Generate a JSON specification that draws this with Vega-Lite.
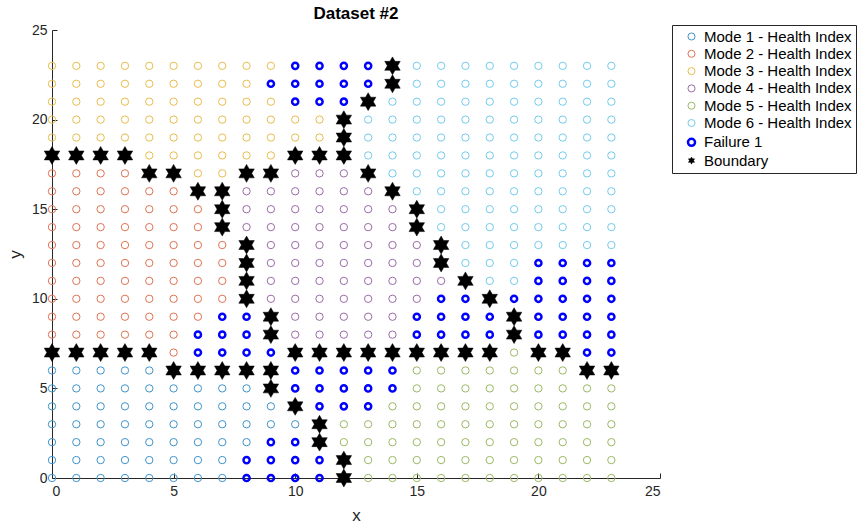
{
  "$schema": "https://vega.github.io/schema/vega-lite/v6.json",
  "width": 608,
  "height": 448,
  "autosize": "none",
  "padding": {"left": 52, "top": 30, "right": 207, "bottom": 50},
  "background": "white",
  "title": {"text": "Dataset #2", "fontSize": 17, "fontWeight": "bold", "font": "Liberation Sans", "color": "#000000", "offset": 0, "anchor": "middle"},
  "data": {"values": [
    {"x":0,"y":23,"k":"3"},{"x":1,"y":23,"k":"3"},{"x":2,"y":23,"k":"3"},{"x":3,"y":23,"k":"3"},{"x":4,"y":23,"k":"3"},{"x":5,"y":23,"k":"3"},{"x":6,"y":23,"k":"3"},{"x":7,"y":23,"k":"3"},{"x":8,"y":23,"k":"3"},{"x":9,"y":23,"k":"3"},{"x":10,"y":23,"k":"F"},{"x":11,"y":23,"k":"F"},{"x":12,"y":23,"k":"F"},{"x":13,"y":23,"k":"F"},{"x":15,"y":23,"k":"6"},{"x":16,"y":23,"k":"6"},{"x":17,"y":23,"k":"6"},{"x":18,"y":23,"k":"6"},{"x":19,"y":23,"k":"6"},{"x":20,"y":23,"k":"6"},{"x":21,"y":23,"k":"6"},{"x":22,"y":23,"k":"6"},{"x":23,"y":23,"k":"6"},
    {"x":0,"y":22,"k":"3"},{"x":1,"y":22,"k":"3"},{"x":2,"y":22,"k":"3"},{"x":3,"y":22,"k":"3"},{"x":4,"y":22,"k":"3"},{"x":5,"y":22,"k":"3"},{"x":6,"y":22,"k":"3"},{"x":7,"y":22,"k":"3"},{"x":8,"y":22,"k":"3"},{"x":9,"y":22,"k":"F"},{"x":10,"y":22,"k":"F"},{"x":11,"y":22,"k":"F"},{"x":12,"y":22,"k":"F"},{"x":13,"y":22,"k":"F"},{"x":15,"y":22,"k":"6"},{"x":16,"y":22,"k":"6"},{"x":17,"y":22,"k":"6"},{"x":18,"y":22,"k":"6"},{"x":19,"y":22,"k":"6"},{"x":20,"y":22,"k":"6"},{"x":21,"y":22,"k":"6"},{"x":22,"y":22,"k":"6"},{"x":23,"y":22,"k":"6"},
    {"x":0,"y":21,"k":"3"},{"x":1,"y":21,"k":"3"},{"x":2,"y":21,"k":"3"},{"x":3,"y":21,"k":"3"},{"x":4,"y":21,"k":"3"},{"x":5,"y":21,"k":"3"},{"x":6,"y":21,"k":"3"},{"x":7,"y":21,"k":"3"},{"x":8,"y":21,"k":"3"},{"x":9,"y":21,"k":"3"},{"x":10,"y":21,"k":"F"},{"x":11,"y":21,"k":"F"},{"x":12,"y":21,"k":"F"},{"x":14,"y":21,"k":"6"},{"x":15,"y":21,"k":"6"},{"x":16,"y":21,"k":"6"},{"x":17,"y":21,"k":"6"},{"x":18,"y":21,"k":"6"},{"x":19,"y":21,"k":"6"},{"x":20,"y":21,"k":"6"},{"x":21,"y":21,"k":"6"},{"x":22,"y":21,"k":"6"},{"x":23,"y":21,"k":"6"},
    {"x":0,"y":20,"k":"3"},{"x":1,"y":20,"k":"3"},{"x":2,"y":20,"k":"3"},{"x":3,"y":20,"k":"3"},{"x":4,"y":20,"k":"3"},{"x":5,"y":20,"k":"3"},{"x":6,"y":20,"k":"3"},{"x":7,"y":20,"k":"3"},{"x":8,"y":20,"k":"3"},{"x":9,"y":20,"k":"3"},{"x":10,"y":20,"k":"3"},{"x":11,"y":20,"k":"3"},{"x":13,"y":20,"k":"6"},{"x":14,"y":20,"k":"6"},{"x":15,"y":20,"k":"6"},{"x":16,"y":20,"k":"6"},{"x":17,"y":20,"k":"6"},{"x":18,"y":20,"k":"6"},{"x":19,"y":20,"k":"6"},{"x":20,"y":20,"k":"6"},{"x":21,"y":20,"k":"6"},{"x":22,"y":20,"k":"6"},{"x":23,"y":20,"k":"6"},
    {"x":0,"y":19,"k":"3"},{"x":1,"y":19,"k":"3"},{"x":2,"y":19,"k":"3"},{"x":3,"y":19,"k":"3"},{"x":4,"y":19,"k":"3"},{"x":5,"y":19,"k":"3"},{"x":6,"y":19,"k":"3"},{"x":7,"y":19,"k":"3"},{"x":8,"y":19,"k":"3"},{"x":9,"y":19,"k":"3"},{"x":10,"y":19,"k":"3"},{"x":11,"y":19,"k":"3"},{"x":13,"y":19,"k":"6"},{"x":14,"y":19,"k":"6"},{"x":15,"y":19,"k":"6"},{"x":16,"y":19,"k":"6"},{"x":17,"y":19,"k":"6"},{"x":18,"y":19,"k":"6"},{"x":19,"y":19,"k":"6"},{"x":20,"y":19,"k":"6"},{"x":21,"y":19,"k":"6"},{"x":22,"y":19,"k":"6"},{"x":23,"y":19,"k":"6"},
    {"x":4,"y":18,"k":"3"},{"x":5,"y":18,"k":"3"},{"x":6,"y":18,"k":"3"},{"x":7,"y":18,"k":"3"},{"x":8,"y":18,"k":"3"},{"x":9,"y":18,"k":"3"},{"x":13,"y":18,"k":"6"},{"x":14,"y":18,"k":"6"},{"x":15,"y":18,"k":"6"},{"x":16,"y":18,"k":"6"},{"x":17,"y":18,"k":"6"},{"x":18,"y":18,"k":"6"},{"x":19,"y":18,"k":"6"},{"x":20,"y":18,"k":"6"},{"x":21,"y":18,"k":"6"},{"x":22,"y":18,"k":"6"},{"x":23,"y":18,"k":"6"},
    {"x":0,"y":17,"k":"2"},{"x":1,"y":17,"k":"2"},{"x":2,"y":17,"k":"2"},{"x":3,"y":17,"k":"2"},{"x":6,"y":17,"k":"3"},{"x":7,"y":17,"k":"3"},{"x":10,"y":17,"k":"4"},{"x":11,"y":17,"k":"4"},{"x":12,"y":17,"k":"4"},{"x":14,"y":17,"k":"6"},{"x":15,"y":17,"k":"6"},{"x":16,"y":17,"k":"6"},{"x":17,"y":17,"k":"6"},{"x":18,"y":17,"k":"6"},{"x":19,"y":17,"k":"6"},{"x":20,"y":17,"k":"6"},{"x":21,"y":17,"k":"6"},{"x":22,"y":17,"k":"6"},{"x":23,"y":17,"k":"6"},
    {"x":0,"y":16,"k":"2"},{"x":1,"y":16,"k":"2"},{"x":2,"y":16,"k":"2"},{"x":3,"y":16,"k":"2"},{"x":4,"y":16,"k":"2"},{"x":5,"y":16,"k":"2"},{"x":8,"y":16,"k":"4"},{"x":9,"y":16,"k":"4"},{"x":10,"y":16,"k":"4"},{"x":11,"y":16,"k":"4"},{"x":12,"y":16,"k":"4"},{"x":13,"y":16,"k":"4"},{"x":15,"y":16,"k":"6"},{"x":16,"y":16,"k":"6"},{"x":17,"y":16,"k":"6"},{"x":18,"y":16,"k":"6"},{"x":19,"y":16,"k":"6"},{"x":20,"y":16,"k":"6"},{"x":21,"y":16,"k":"6"},{"x":22,"y":16,"k":"6"},{"x":23,"y":16,"k":"6"},
    {"x":0,"y":15,"k":"2"},{"x":1,"y":15,"k":"2"},{"x":2,"y":15,"k":"2"},{"x":3,"y":15,"k":"2"},{"x":4,"y":15,"k":"2"},{"x":5,"y":15,"k":"2"},{"x":6,"y":15,"k":"2"},{"x":8,"y":15,"k":"4"},{"x":9,"y":15,"k":"4"},{"x":10,"y":15,"k":"4"},{"x":11,"y":15,"k":"4"},{"x":12,"y":15,"k":"4"},{"x":13,"y":15,"k":"4"},{"x":14,"y":15,"k":"4"},{"x":16,"y":15,"k":"6"},{"x":17,"y":15,"k":"6"},{"x":18,"y":15,"k":"6"},{"x":19,"y":15,"k":"6"},{"x":20,"y":15,"k":"6"},{"x":21,"y":15,"k":"6"},{"x":22,"y":15,"k":"6"},{"x":23,"y":15,"k":"6"},
    {"x":0,"y":14,"k":"2"},{"x":1,"y":14,"k":"2"},{"x":2,"y":14,"k":"2"},{"x":3,"y":14,"k":"2"},{"x":4,"y":14,"k":"2"},{"x":5,"y":14,"k":"2"},{"x":6,"y":14,"k":"2"},{"x":8,"y":14,"k":"4"},{"x":9,"y":14,"k":"4"},{"x":10,"y":14,"k":"4"},{"x":11,"y":14,"k":"4"},{"x":12,"y":14,"k":"4"},{"x":13,"y":14,"k":"4"},{"x":14,"y":14,"k":"4"},{"x":16,"y":14,"k":"6"},{"x":17,"y":14,"k":"6"},{"x":18,"y":14,"k":"6"},{"x":19,"y":14,"k":"6"},{"x":20,"y":14,"k":"6"},{"x":21,"y":14,"k":"6"},{"x":22,"y":14,"k":"6"},{"x":23,"y":14,"k":"6"},
    {"x":0,"y":13,"k":"2"},{"x":1,"y":13,"k":"2"},{"x":2,"y":13,"k":"2"},{"x":3,"y":13,"k":"2"},{"x":4,"y":13,"k":"2"},{"x":5,"y":13,"k":"2"},{"x":6,"y":13,"k":"2"},{"x":7,"y":13,"k":"2"},{"x":9,"y":13,"k":"4"},{"x":10,"y":13,"k":"4"},{"x":11,"y":13,"k":"4"},{"x":12,"y":13,"k":"4"},{"x":13,"y":13,"k":"4"},{"x":14,"y":13,"k":"4"},{"x":15,"y":13,"k":"4"},{"x":17,"y":13,"k":"6"},{"x":18,"y":13,"k":"6"},{"x":19,"y":13,"k":"6"},{"x":20,"y":13,"k":"6"},{"x":21,"y":13,"k":"6"},{"x":22,"y":13,"k":"6"},{"x":23,"y":13,"k":"6"},
    {"x":0,"y":12,"k":"2"},{"x":1,"y":12,"k":"2"},{"x":2,"y":12,"k":"2"},{"x":3,"y":12,"k":"2"},{"x":4,"y":12,"k":"2"},{"x":5,"y":12,"k":"2"},{"x":6,"y":12,"k":"2"},{"x":7,"y":12,"k":"2"},{"x":9,"y":12,"k":"4"},{"x":10,"y":12,"k":"4"},{"x":11,"y":12,"k":"4"},{"x":12,"y":12,"k":"4"},{"x":13,"y":12,"k":"4"},{"x":14,"y":12,"k":"4"},{"x":15,"y":12,"k":"4"},{"x":17,"y":12,"k":"6"},{"x":18,"y":12,"k":"6"},{"x":19,"y":12,"k":"6"},{"x":20,"y":12,"k":"F"},{"x":21,"y":12,"k":"F"},{"x":22,"y":12,"k":"F"},{"x":23,"y":12,"k":"F"},
    {"x":0,"y":11,"k":"2"},{"x":1,"y":11,"k":"2"},{"x":2,"y":11,"k":"2"},{"x":3,"y":11,"k":"2"},{"x":4,"y":11,"k":"2"},{"x":5,"y":11,"k":"2"},{"x":6,"y":11,"k":"2"},{"x":7,"y":11,"k":"2"},{"x":9,"y":11,"k":"4"},{"x":10,"y":11,"k":"4"},{"x":11,"y":11,"k":"4"},{"x":12,"y":11,"k":"4"},{"x":13,"y":11,"k":"4"},{"x":14,"y":11,"k":"4"},{"x":15,"y":11,"k":"4"},{"x":16,"y":11,"k":"4"},{"x":18,"y":11,"k":"6"},{"x":19,"y":11,"k":"6"},{"x":20,"y":11,"k":"F"},{"x":21,"y":11,"k":"F"},{"x":22,"y":11,"k":"F"},{"x":23,"y":11,"k":"F"},
    {"x":0,"y":10,"k":"2"},{"x":1,"y":10,"k":"2"},{"x":2,"y":10,"k":"2"},{"x":3,"y":10,"k":"2"},{"x":4,"y":10,"k":"2"},{"x":5,"y":10,"k":"2"},{"x":6,"y":10,"k":"2"},{"x":7,"y":10,"k":"2"},{"x":9,"y":10,"k":"4"},{"x":10,"y":10,"k":"4"},{"x":11,"y":10,"k":"4"},{"x":12,"y":10,"k":"4"},{"x":13,"y":10,"k":"4"},{"x":14,"y":10,"k":"4"},{"x":15,"y":10,"k":"4"},{"x":16,"y":10,"k":"F"},{"x":17,"y":10,"k":"F"},{"x":19,"y":10,"k":"F"},{"x":20,"y":10,"k":"F"},{"x":21,"y":10,"k":"F"},{"x":22,"y":10,"k":"F"},{"x":23,"y":10,"k":"F"},
    {"x":0,"y":9,"k":"2"},{"x":1,"y":9,"k":"2"},{"x":2,"y":9,"k":"2"},{"x":3,"y":9,"k":"2"},{"x":4,"y":9,"k":"2"},{"x":5,"y":9,"k":"2"},{"x":6,"y":9,"k":"2"},{"x":7,"y":9,"k":"F"},{"x":8,"y":9,"k":"F"},{"x":10,"y":9,"k":"4"},{"x":11,"y":9,"k":"4"},{"x":12,"y":9,"k":"4"},{"x":13,"y":9,"k":"4"},{"x":14,"y":9,"k":"4"},{"x":15,"y":9,"k":"F"},{"x":16,"y":9,"k":"F"},{"x":17,"y":9,"k":"F"},{"x":18,"y":9,"k":"F"},{"x":20,"y":9,"k":"F"},{"x":21,"y":9,"k":"F"},{"x":22,"y":9,"k":"F"},{"x":23,"y":9,"k":"F"},
    {"x":0,"y":8,"k":"2"},{"x":1,"y":8,"k":"2"},{"x":2,"y":8,"k":"2"},{"x":3,"y":8,"k":"2"},{"x":4,"y":8,"k":"2"},{"x":5,"y":8,"k":"2"},{"x":6,"y":8,"k":"F"},{"x":7,"y":8,"k":"F"},{"x":8,"y":8,"k":"F"},{"x":10,"y":8,"k":"4"},{"x":11,"y":8,"k":"4"},{"x":12,"y":8,"k":"4"},{"x":13,"y":8,"k":"4"},{"x":14,"y":8,"k":"4"},{"x":15,"y":8,"k":"F"},{"x":16,"y":8,"k":"F"},{"x":17,"y":8,"k":"F"},{"x":18,"y":8,"k":"F"},{"x":20,"y":8,"k":"F"},{"x":21,"y":8,"k":"F"},{"x":22,"y":8,"k":"F"},{"x":23,"y":8,"k":"F"},
    {"x":5,"y":7,"k":"2"},{"x":6,"y":7,"k":"F"},{"x":7,"y":7,"k":"F"},{"x":8,"y":7,"k":"F"},{"x":9,"y":7,"k":"F"},{"x":19,"y":7,"k":"5"},{"x":22,"y":7,"k":"F"},{"x":23,"y":7,"k":"F"},
    {"x":0,"y":6,"k":"1"},{"x":1,"y":6,"k":"1"},{"x":2,"y":6,"k":"1"},{"x":3,"y":6,"k":"1"},{"x":4,"y":6,"k":"1"},{"x":10,"y":6,"k":"F"},{"x":11,"y":6,"k":"F"},{"x":12,"y":6,"k":"F"},{"x":13,"y":6,"k":"F"},{"x":14,"y":6,"k":"F"},{"x":15,"y":6,"k":"5"},{"x":16,"y":6,"k":"5"},{"x":17,"y":6,"k":"5"},{"x":18,"y":6,"k":"5"},{"x":19,"y":6,"k":"5"},{"x":20,"y":6,"k":"5"},{"x":21,"y":6,"k":"5"},
    {"x":0,"y":5,"k":"1"},{"x":1,"y":5,"k":"1"},{"x":2,"y":5,"k":"1"},{"x":3,"y":5,"k":"1"},{"x":4,"y":5,"k":"1"},{"x":5,"y":5,"k":"1"},{"x":6,"y":5,"k":"1"},{"x":7,"y":5,"k":"1"},{"x":8,"y":5,"k":"1"},{"x":10,"y":5,"k":"F"},{"x":11,"y":5,"k":"F"},{"x":12,"y":5,"k":"F"},{"x":13,"y":5,"k":"F"},{"x":14,"y":5,"k":"F"},{"x":15,"y":5,"k":"5"},{"x":16,"y":5,"k":"5"},{"x":17,"y":5,"k":"5"},{"x":18,"y":5,"k":"5"},{"x":19,"y":5,"k":"5"},{"x":20,"y":5,"k":"5"},{"x":21,"y":5,"k":"5"},{"x":22,"y":5,"k":"5"},{"x":23,"y":5,"k":"5"},
    {"x":0,"y":4,"k":"1"},{"x":1,"y":4,"k":"1"},{"x":2,"y":4,"k":"1"},{"x":3,"y":4,"k":"1"},{"x":4,"y":4,"k":"1"},{"x":5,"y":4,"k":"1"},{"x":6,"y":4,"k":"1"},{"x":7,"y":4,"k":"1"},{"x":8,"y":4,"k":"1"},{"x":9,"y":4,"k":"1"},{"x":11,"y":4,"k":"F"},{"x":12,"y":4,"k":"F"},{"x":13,"y":4,"k":"F"},{"x":14,"y":4,"k":"5"},{"x":15,"y":4,"k":"5"},{"x":16,"y":4,"k":"5"},{"x":17,"y":4,"k":"5"},{"x":18,"y":4,"k":"5"},{"x":19,"y":4,"k":"5"},{"x":20,"y":4,"k":"5"},{"x":21,"y":4,"k":"5"},{"x":22,"y":4,"k":"5"},{"x":23,"y":4,"k":"5"},
    {"x":0,"y":3,"k":"1"},{"x":1,"y":3,"k":"1"},{"x":2,"y":3,"k":"1"},{"x":3,"y":3,"k":"1"},{"x":4,"y":3,"k":"1"},{"x":5,"y":3,"k":"1"},{"x":6,"y":3,"k":"1"},{"x":7,"y":3,"k":"1"},{"x":8,"y":3,"k":"1"},{"x":9,"y":3,"k":"1"},{"x":10,"y":3,"k":"1"},{"x":12,"y":3,"k":"5"},{"x":13,"y":3,"k":"5"},{"x":14,"y":3,"k":"5"},{"x":15,"y":3,"k":"5"},{"x":16,"y":3,"k":"5"},{"x":17,"y":3,"k":"5"},{"x":18,"y":3,"k":"5"},{"x":19,"y":3,"k":"5"},{"x":20,"y":3,"k":"5"},{"x":21,"y":3,"k":"5"},{"x":22,"y":3,"k":"5"},{"x":23,"y":3,"k":"5"},
    {"x":0,"y":2,"k":"1"},{"x":1,"y":2,"k":"1"},{"x":2,"y":2,"k":"1"},{"x":3,"y":2,"k":"1"},{"x":4,"y":2,"k":"1"},{"x":5,"y":2,"k":"1"},{"x":6,"y":2,"k":"1"},{"x":7,"y":2,"k":"1"},{"x":8,"y":2,"k":"1"},{"x":9,"y":2,"k":"F"},{"x":10,"y":2,"k":"F"},{"x":12,"y":2,"k":"5"},{"x":13,"y":2,"k":"5"},{"x":14,"y":2,"k":"5"},{"x":15,"y":2,"k":"5"},{"x":16,"y":2,"k":"5"},{"x":17,"y":2,"k":"5"},{"x":18,"y":2,"k":"5"},{"x":19,"y":2,"k":"5"},{"x":20,"y":2,"k":"5"},{"x":21,"y":2,"k":"5"},{"x":22,"y":2,"k":"5"},{"x":23,"y":2,"k":"5"},
    {"x":0,"y":1,"k":"1"},{"x":1,"y":1,"k":"1"},{"x":2,"y":1,"k":"1"},{"x":3,"y":1,"k":"1"},{"x":4,"y":1,"k":"1"},{"x":5,"y":1,"k":"1"},{"x":6,"y":1,"k":"1"},{"x":7,"y":1,"k":"1"},{"x":8,"y":1,"k":"F"},{"x":9,"y":1,"k":"F"},{"x":10,"y":1,"k":"F"},{"x":11,"y":1,"k":"F"},{"x":13,"y":1,"k":"5"},{"x":14,"y":1,"k":"5"},{"x":15,"y":1,"k":"5"},{"x":16,"y":1,"k":"5"},{"x":17,"y":1,"k":"5"},{"x":18,"y":1,"k":"5"},{"x":19,"y":1,"k":"5"},{"x":20,"y":1,"k":"5"},{"x":21,"y":1,"k":"5"},{"x":22,"y":1,"k":"5"},{"x":23,"y":1,"k":"5"},
    {"x":0,"y":0,"k":"1"},{"x":1,"y":0,"k":"1"},{"x":2,"y":0,"k":"1"},{"x":3,"y":0,"k":"1"},{"x":4,"y":0,"k":"1"},{"x":5,"y":0,"k":"1"},{"x":6,"y":0,"k":"1"},{"x":7,"y":0,"k":"1"},{"x":8,"y":0,"k":"F"},{"x":9,"y":0,"k":"F"},{"x":10,"y":0,"k":"F"},{"x":11,"y":0,"k":"F"},{"x":13,"y":0,"k":"5"},{"x":14,"y":0,"k":"5"},{"x":15,"y":0,"k":"5"},{"x":16,"y":0,"k":"5"},{"x":17,"y":0,"k":"5"},{"x":18,"y":0,"k":"5"},{"x":19,"y":0,"k":"5"},{"x":20,"y":0,"k":"5"},{"x":21,"y":0,"k":"5"},{"x":22,"y":0,"k":"5"},{"x":23,"y":0,"k":"5"},
    {"x":14,"y":23,"k":"B"},{"x":14,"y":22,"k":"B"},{"x":13,"y":21,"k":"B"},{"x":12,"y":20,"k":"B"},{"x":12,"y":19,"k":"B"},
    {"x":0,"y":18,"k":"B"},{"x":1,"y":18,"k":"B"},{"x":2,"y":18,"k":"B"},{"x":3,"y":18,"k":"B"},{"x":10,"y":18,"k":"B"},{"x":11,"y":18,"k":"B"},{"x":12,"y":18,"k":"B"},
    {"x":4,"y":17,"k":"B"},{"x":5,"y":17,"k":"B"},{"x":8,"y":17,"k":"B"},{"x":9,"y":17,"k":"B"},{"x":13,"y":17,"k":"B"},
    {"x":6,"y":16,"k":"B"},{"x":7,"y":16,"k":"B"},{"x":14,"y":16,"k":"B"},
    {"x":7,"y":15,"k":"B"},{"x":15,"y":15,"k":"B"},{"x":7,"y":14,"k":"B"},{"x":15,"y":14,"k":"B"},
    {"x":8,"y":13,"k":"B"},{"x":16,"y":13,"k":"B"},{"x":8,"y":12,"k":"B"},{"x":16,"y":12,"k":"B"},
    {"x":8,"y":11,"k":"B"},{"x":17,"y":11,"k":"B"},{"x":8,"y":10,"k":"B"},{"x":18,"y":10,"k":"B"},
    {"x":9,"y":9,"k":"B"},{"x":19,"y":9,"k":"B"},{"x":9,"y":8,"k":"B"},{"x":19,"y":8,"k":"B"},
    {"x":0,"y":7,"k":"B"},{"x":1,"y":7,"k":"B"},{"x":2,"y":7,"k":"B"},{"x":3,"y":7,"k":"B"},{"x":4,"y":7,"k":"B"},
    {"x":10,"y":7,"k":"B"},{"x":11,"y":7,"k":"B"},{"x":12,"y":7,"k":"B"},{"x":13,"y":7,"k":"B"},{"x":14,"y":7,"k":"B"},{"x":15,"y":7,"k":"B"},{"x":16,"y":7,"k":"B"},{"x":17,"y":7,"k":"B"},{"x":18,"y":7,"k":"B"},{"x":20,"y":7,"k":"B"},{"x":21,"y":7,"k":"B"},
    {"x":5,"y":6,"k":"B"},{"x":6,"y":6,"k":"B"},{"x":7,"y":6,"k":"B"},{"x":8,"y":6,"k":"B"},{"x":9,"y":6,"k":"B"},{"x":22,"y":6,"k":"B"},{"x":23,"y":6,"k":"B"},
    {"x":9,"y":5,"k":"B"},{"x":10,"y":4,"k":"B"},{"x":11,"y":3,"k":"B"},{"x":11,"y":2,"k":"B"},{"x":12,"y":1,"k":"B"},{"x":12,"y":0,"k":"B"}
  ]},
  "mark": {"type": "point", "clip": false, "opacity": 1},
  "encoding": {
    "x": {"field": "x", "type": "quantitative",
      "scale": {"domain": [0, 25], "nice": false, "zero": false},
      "axis": {"title": "x", "values": [0, 5, 10, 15, 20, 25], "labelPadding": 11, "titlePadding": 9}},
    "y": {"field": "y", "type": "quantitative",
      "scale": {"domain": [0, 25], "nice": false, "zero": false},
      "axis": {"title": "y", "values": [0, 5, 10, 15, 20, 25], "labelPadding": 10, "titlePadding": 7}},
    "stroke": {"field": "k", "type": "nominal",
      "scale": {"domain": ["1","2","3","4","5","6","F","B"],
        "range": ["#3f93c9","#de7352","#e9bd4c","#9a6aa8","#9bb865","#74cbed","#0000ff","#000000"]},
      "legend": {"title": null, "orient": "none", "legendX": 620, "legendY": -5,
        "labelExpr": "datum.label == 'F' ? 'Failure 1' : datum.label == 'B' ? 'Boundary' : 'Mode ' + datum.label + ' - Health Index'"}},
    "fill": {"field": "k", "type": "nominal",
      "scale": {"domain": ["1","2","3","4","5","6","F","B"],
        "range": ["transparent","transparent","transparent","transparent","transparent","transparent","transparent","#000000"]},
      "legend": {"title": null, "orient": "none", "legendX": 620, "legendY": -5,
        "labelExpr": "datum.label == 'F' ? 'Failure 1' : datum.label == 'B' ? 'Boundary' : 'Mode ' + datum.label + ' - Health Index'"}},
    "shape": {"field": "k", "type": "nominal",
      "scale": {"domain": ["1","2","3","4","5","6","F","B"],
        "range": ["circle","circle","circle","circle","circle","circle","circle",
          "M0,-1L0.289,-0.5L0.866,-0.5L0.577,0L0.866,0.5L0.289,0.5L0,1L-0.289,0.5L-0.866,0.5L-0.577,0L-0.866,-0.5L-0.289,-0.5Z"]},
      "legend": {"title": null, "orient": "none", "legendX": 620, "legendY": -5,
        "labelExpr": "datum.label == 'F' ? 'Failure 1' : datum.label == 'B' ? 'Boundary' : 'Mode ' + datum.label + ' - Health Index'"}},
    "strokeWidth": {"field": "k", "type": "nominal",
      "scale": {"type": "ordinal", "domain": ["1","2","3","4","5","6","F","B"],
        "range": [1, 1, 1, 1, 1, 1, 2.5, 0.5]},
      "legend": {"title": null, "orient": "none", "legendX": 620, "legendY": -5,
        "labelExpr": "datum.label == 'F' ? 'Failure 1' : datum.label == 'B' ? 'Boundary' : 'Mode ' + datum.label + ' - Health Index'"}},
    "size": {"field": "k", "type": "nominal",
      "scale": {"type": "ordinal", "domain": ["B","F","1","2","3","4","5","6"],
        "range": [320, 38, 54, 54, 54, 54, 54, 54]},
      "legend": null}
  },
  "config": {
    "view": {"stroke": null},
    "font": "Liberation Sans",
    "axis": {
      "domainColor": "#262626", "domainWidth": 1,
      "tickColor": "#262626", "tickSize": -5, "tickWidth": 1,
      "labelColor": "#262626", "labelFont": "Liberation Sans", "labelFontSize": 14,
      "titleColor": "#262626", "titleFont": "Liberation Sans", "titleFontSize": 17, "titleFontWeight": "normal",
      "grid": false
    },
    "legend": {
      "strokeColor": "#262626", "padding": 4, "fillColor": "white",
      "labelFont": "Liberation Sans", "labelFontSize": 15, "labelColor": "#000000",
      "symbolSize": 50, "rowPadding": 1.3, "symbolOffset": 8, "labelOffset": 5, "labelLimit": 300
    }
  }
}
